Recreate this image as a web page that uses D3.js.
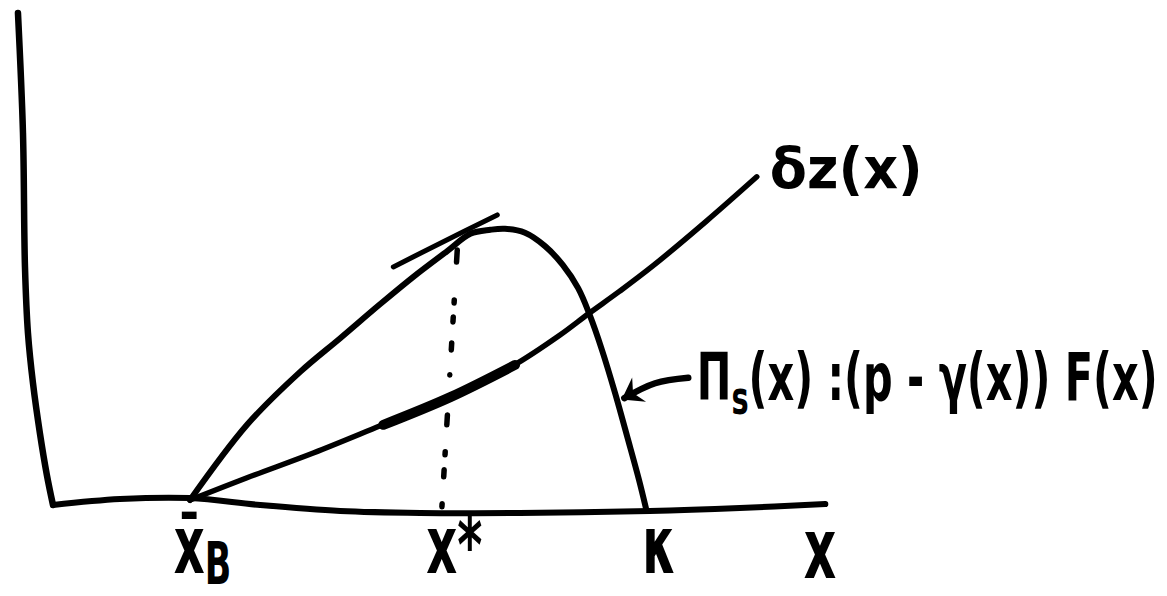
<!DOCTYPE html>
<html>
<head>
<meta charset="utf-8">
<script src="https://cdn.jsdelivr.net/npm/d3@7"></script>
<style>
  html, body { margin: 0; background: #fff; }
  svg { display: block; }
</style>
</head>
<body>
<svg id="chart" width="1167" height="596"></svg>
<script>
// Sketch of the seller's profit Πs(x) against δz(x), both in units of x (0–10) and value (0–10).

// Hand-drawn axes
const yAxisStroke = [[-0.455, 9.94], [-0.39, 7.52], [-0.364, 4.81], [-0.325, 3.47], [-0.26, 2.46], [-0.17, 1.45], [-0.08, 0.61], [0, 0]];
const xAxisStroke = [[0, 0], [0.87, 0.12], [1.78, 0.14], [2.69, 0], [3.73, -0.12], [4.77, -0.16], [6.06, -0.16], [7.75, -0.12], [8.92, -0.06], [10.03, 0.02]];

// Πs(x) = (p − γ(x)) F(x): rises from x̄B, peaks near x*, falls to zero at κ
const profitCurve = [
  [1.78, 0.10], [2.52, 1.62], [3.21, 2.69], [3.73, 3.37], [4.25, 4.06], [4.68, 4.61],
  [5.12, 5.13], [5.42, 5.48], [5.68, 5.56], [5.87, 5.58], [6.13, 5.50], [6.39, 5.23],
  [6.62, 4.85], [6.82, 4.38], [6.97, 3.84], [7.13, 3.13], [7.30, 2.26], [7.47, 1.31],
  [7.61, 0.51], [7.70, -0.06]
];

// δz(x)
const deltaZCurve = [
  [1.78, 0.10], [2.52, 0.55], [3.38, 1.05], [4.25, 1.60], [5.16, 2.18], [5.97, 2.81],
  [6.58, 3.43], [6.95, 3.86], [7.36, 4.32], [7.79, 4.83], [8.49, 5.74], [9.14, 6.63]
];

// Emphasised stretch of δz(x) below x*, and the tangent to Πs at x*
const deltaZEmphasis = [[4.29, 1.62], [5.16, 2.18], [6.00, 2.83]];
const peakTangent = [[4.42, 4.81], [5.03, 5.29], [5.77, 5.86]];

// Dotted drop line from the tangency point down to x*
const xStarGuide = [[5.25, 5.15], [5.05, -0.06]];

// Arrow from the Πs label to its curve
const pointerArrow = [[8.25, 2.57], [7.82, 2.46], [7.42, 2.16]];

// Points marked on the x axis
const tickValues = [1.78, 5.05, 7.71];
const tickLabels = ["x̄|B", "x*", "κ"];
const axisName = { value: 9.96, text: "x" };

// Curve labels
const deltaZLabel = { at: [9.31, 6.40], text: "δz(x)" };
const profitLabel = { at: [8.36, 2.12], parts: ["Π", "s", "(x) :(p - γ(x)) F(x)"] };

const svg = d3.select("#chart");

const x = d3.scaleLinear().domain([0, 10]).range([53, 823]);
const y = d3.scaleLinear().domain([0, 10]).range([505, 10]);

const line = d3.line()
  .x(d => x(d[0]))
  .y(d => y(d[1]))
  .curve(d3.curveCatmullRom.alpha(0.5));

const ink = "#000";
const font = "'DejaVu Sans', sans-serif";

svg.append("defs").append("marker")
  .attr("id", "head")
  .attr("markerUnits", "userSpaceOnUse")
  .attr("viewBox", "-20 -15 24 30")
  .attr("markerWidth", 24)
  .attr("markerHeight", 30)
  .attr("refX", 0)
  .attr("refY", 0)
  .attr("orient", "auto")
  .append("path")
  .attr("d", "M3,0 L-17,-14 L-10,0 L-17,14 Z")
  .attr("fill", ink);

const strokes = svg.append("g")
  .attr("fill", "none")
  .attr("stroke", ink)
  .attr("stroke-linecap", "round")
  .attr("stroke-linejoin", "round");

strokes.append("path").attr("d", line(yAxisStroke)).attr("stroke-width", 6.5);
strokes.append("path").attr("d", line(xAxisStroke)).attr("stroke-width", 6);

strokes.append("path").attr("d", line(xStarGuide))
  .attr("stroke-width", 5.5)
  .attr("stroke-dasharray", "12,38,3,14,5,21,7,25,0.1,40,10,27,3,15,7,27,3,40");

strokes.append("path").attr("d", line(deltaZCurve)).attr("stroke-width", 5.5);
strokes.append("path").attr("d", line(deltaZEmphasis)).attr("stroke-width", 10);
strokes.append("path").attr("d", line(profitCurve)).attr("stroke-width", 6);
strokes.append("path").attr("d", line(peakTangent)).attr("stroke-width", 5);

strokes.append("path").attr("d", line(pointerArrow))
  .attr("stroke-width", 6.5)
  .attr("marker-end", "url(#head)");

// x axis marks through d3.axisBottom (the drawn stroke above stands in for its domain line)
const xAxis = d3.axisBottom(x)
  .tickValues(tickValues)
  .tickSize(0)
  .tickFormat((d, i) => tickLabels[i]);

const axisG = svg.append("g")
  .attr("transform", `translate(0,${y(0)})`)
  .call(xAxis);

axisG.select(".domain").remove();

axisG.selectAll(".tick text")
  .attr("y", 68)
  .attr("dy", null)
  .attr("fill", ink)
  .attr("font-family", font)
  .attr("font-weight", "bold")
  .attr("font-size", 80)
  .attr("text-anchor", "middle")
  .attr("transform", "translate(12,0) scale(0.6,1)")
  .each(function (d, i) {
    const parts = tickLabels[i].split("|");
    const t = d3.select(this).text(null);
    t.append("tspan").text(parts[0]);
    if (parts[1]) {
      t.append("tspan").attr("dy", 11).attr("font-size", 58).text(parts[1]);
    }
  });

const axisNameX = x(axisName.value);
svg.append("text")
  .attr("x", 0)
  .attr("y", y(0) + 73)
  .attr("fill", ink)
  .attr("font-family", font)
  .attr("font-weight", "bold")
  .attr("font-size", 84)
  .attr("text-anchor", "middle")
  .attr("transform", `translate(${axisNameX},0) scale(0.6,1)`)
  .text(axisName.text);

// Squeeze a label horizontally to a given width, anchored at its left baseline point
function fitWidth(sel, px, py, targetWidth) {
  const natural = sel.node().getComputedTextLength();
  sel.attr("x", 0).attr("y", 0)
    .attr("transform", `translate(${px},${py}) scale(${targetWidth / natural},1)`);
}

const dz = svg.append("text")
  .attr("fill", ink)
  .attr("font-family", font)
  .attr("font-weight", "bold")
  .attr("font-size", 56)
  .text(deltaZLabel.text);
fitWidth(dz, x(deltaZLabel.at[0]), y(deltaZLabel.at[1]), 153);

const pl = svg.append("text")
  .attr("fill", ink)
  .attr("font-family", font)
  .attr("font-weight", "bold")
  .attr("font-size", 66);
pl.append("tspan").text(profitLabel.parts[0]);
pl.append("tspan").attr("dy", 14).attr("font-size", 46).text(profitLabel.parts[1]);
pl.append("tspan").attr("dy", -14).text(profitLabel.parts[2]);
fitWidth(pl, x(profitLabel.at[0]), y(profitLabel.at[1]), 461);
</script>
</body>
</html>
